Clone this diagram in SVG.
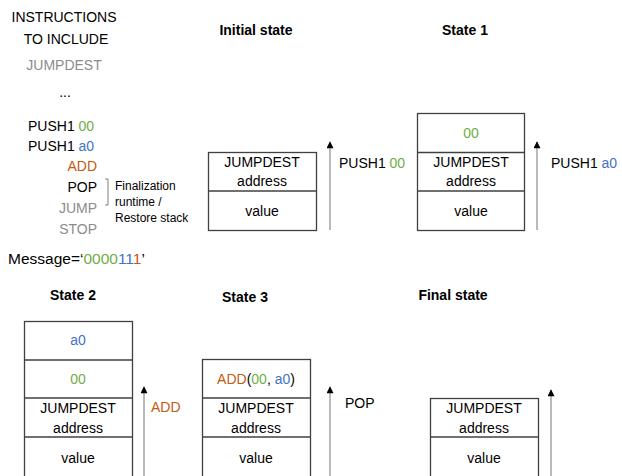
<svg xmlns="http://www.w3.org/2000/svg" width="622" height="476" viewBox="0 0 622 476">
<style>
text{font-family:"Liberation Sans",Arial,sans-serif;font-size:14px;fill:#000}
.t{font-weight:bold;font-size:14px}
.g{fill:#70AD47}.b{fill:#4472C4}.o{fill:#C55A11}.gr{fill:#8C8C8C}
.sm{font-size:12px}
.c{text-anchor:middle}.r{text-anchor:end}
.box{fill:#fff;stroke:#404040;stroke-width:1.3}
.ar{stroke:#8C8C8C;stroke-width:1.2;fill:none}
</style>
<defs>
<marker id="ah" viewBox="0 0 10 10" refX="9" refY="5" markerWidth="8" markerHeight="7" markerUnits="userSpaceOnUse" orient="auto"><path d="M0,0 L10,5 L0,10 Z" fill="#000"/></marker>
</defs>

<g id="instructions">
<text class="c" x="64" y="22">INSTRUCTIONS</text>
<text class="c" x="66" y="44">TO INCLUDE</text>
<text class="c gr" x="64" y="70">JUMPDEST</text>
<text class="c" x="65" y="97">...</text>
<text x="28" y="131">PUSH1 <tspan class="g">00</tspan></text>
<text x="28" y="151">PUSH1 <tspan class="b">a0</tspan></text>
<text class="r o" x="97" y="171">ADD</text>
<text class="r" x="97" y="192">POP</text>
<text class="r gr" x="97" y="213">JUMP</text>
<text class="r gr" x="97" y="234">STOP</text>
<path d="M105,179 H108 V205 H105" fill="none" stroke="#808080" stroke-width="1"/>
<text class="sm" x="115" y="190">Finalization</text>
<text class="sm" x="115" y="206">runtime /</text>
<text class="sm" x="115" y="222">Restore stack</text>
<text x="8" y="264" style="font-size:15.5px">Message=‘<tspan class="g">0000</tspan><tspan class="b">11</tspan><tspan class="o">1</tspan>’</text>
</g>

<g id="initial">
<text class="t c" x="256" y="35">Initial state</text>
<rect class="box" x="208.5" y="152.5" width="108" height="78"/>
<line class="box" x1="208.5" y1="191" x2="316.5" y2="191"/>
<text class="c" x="262" y="167">JUMPDEST</text>
<text class="c" x="262" y="186">address</text>
<text class="c" x="262" y="216">value</text>
</g>

<g id="state1">
<text class="t c" x="465" y="35">State 1</text>
<rect class="box" x="417.5" y="113.5" width="107" height="117"/>
<line class="box" x1="417.5" y1="152.5" x2="524.5" y2="152.5"/>
<line class="box" x1="417.5" y1="191" x2="524.5" y2="191"/>
<text class="c g" x="471" y="138">00</text>
<text class="c" x="471" y="167">JUMPDEST</text>
<text class="c" x="471" y="186">address</text>
<text class="c" x="471" y="216">value</text>
</g>

<g id="state2">
<text class="t c" x="73" y="300">State 2</text>
<rect class="box" x="24.5" y="321.5" width="108" height="160"/>
<line class="box" x1="24.5" y1="360" x2="132.5" y2="360"/>
<line class="box" x1="24.5" y1="398" x2="132.5" y2="398"/>
<line class="box" x1="24.5" y1="437" x2="132.5" y2="437"/>
<text class="c b" x="78" y="345">a0</text>
<text class="c g" x="78" y="384">00</text>
<text class="c" x="78" y="413">JUMPDEST</text>
<text class="c" x="78" y="433">address</text>
<text class="c" x="78" y="463">value</text>
</g>

<g id="state3">
<text class="t c" x="245" y="302">State 3</text>
<rect class="box" x="202.5" y="359.5" width="108" height="122"/>
<line class="box" x1="202.5" y1="398" x2="310.5" y2="398"/>
<line class="box" x1="202.5" y1="437" x2="310.5" y2="437"/>
<text class="c" x="256" y="384"><tspan class="o">ADD</tspan>(<tspan class="g">00</tspan>, <tspan class="b">a0</tspan>)</text>
<text class="c" x="256" y="413">JUMPDEST</text>
<text class="c" x="256" y="433">address</text>
<text class="c" x="256" y="463">value</text>
</g>

<g id="final">
<text class="t c" x="453" y="300">Final state</text>
<rect class="box" x="430.5" y="398.5" width="108" height="83"/>
<line class="box" x1="430.5" y1="437" x2="538.5" y2="437"/>
<text class="c" x="484" y="413">JUMPDEST</text>
<text class="c" x="484" y="433">address</text>
<text class="c" x="484" y="463">value</text>
</g>

<g id="connectors">
<line class="ar" x1="330" y1="230" x2="330" y2="142" marker-end="url(#ah)"/>
<text x="339" y="168">PUSH1 <tspan class="g">00</tspan></text>
<line class="ar" x1="537" y1="230" x2="537" y2="142" marker-end="url(#ah)"/>
<text x="551" y="168">PUSH1 <tspan class="b">a0</tspan></text>
<line class="ar" x1="144" y1="476" x2="144" y2="387" marker-end="url(#ah)"/>
<text class="o" x="151" y="412">ADD</text>
<line class="ar" x1="330" y1="476" x2="330" y2="387" marker-end="url(#ah)"/>
<text x="345" y="408">POP</text>
<line class="ar" x1="551" y1="476" x2="551" y2="390" marker-end="url(#ah)"/>
</g>
</svg>
